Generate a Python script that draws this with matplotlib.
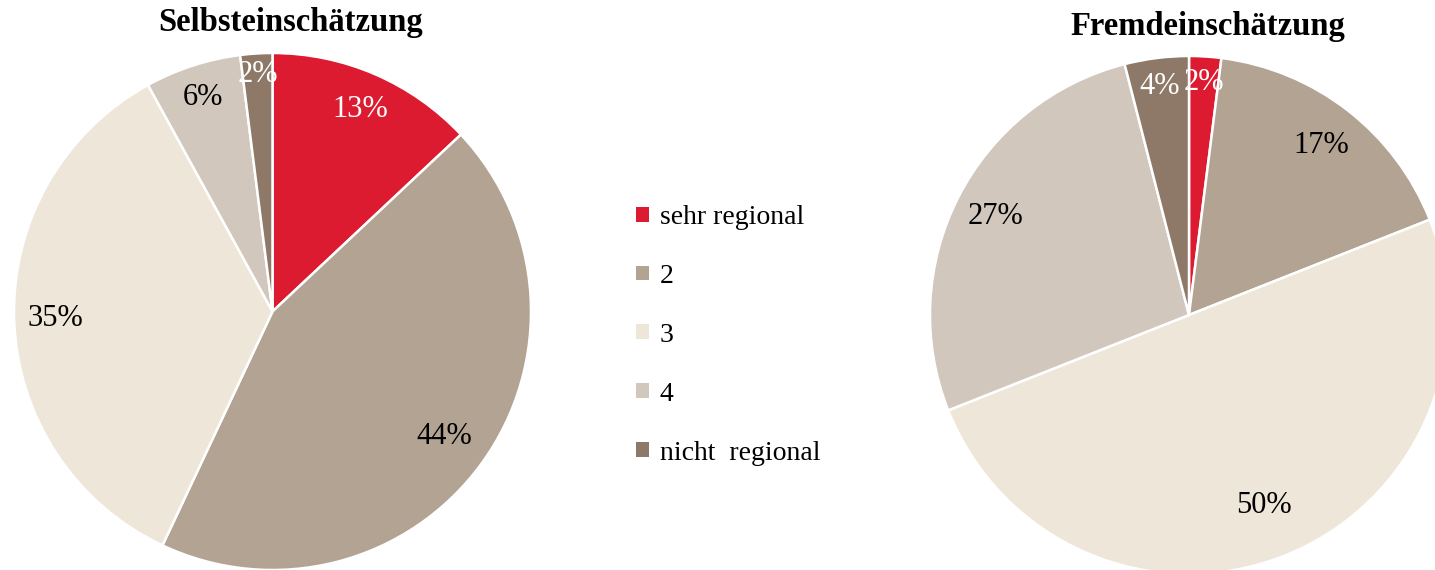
import matplotlib
matplotlib.use("Agg")
import matplotlib.pyplot as plt

categories = ["sehr regional", "2", "3", "4", "nicht  regional"]
selbst = [13, 44, 35, 6, 2]
fremd = [2, 17, 50, 27, 4]
colors = ["#DC1A30", "#B3A393", "#EFE6DA", "#D1C7BD", "#8E7968"]
label_colors = ["white", "black", "black", "black", "white"]

plt.rcParams['font.family'] = ['Liberation Serif', 'DejaVu Serif']

W, H = 1435, 570
fig = plt.figure(figsize=(W / 100, H / 100), dpi=100)


def draw(ax, values, radii, title, tx, ty):
    wedges, texts, autos = ax.pie(
        values, colors=colors, startangle=90, counterclock=False,
        autopct=lambda p: f"{p:.0f}%", pctdistance=0.85,
        wedgeprops=dict(edgecolor="white", linewidth=1.8),
        textprops=dict(fontsize=22), radius=1)
    for a, c, r in zip(autos, label_colors, radii):
        x, y = a.get_position()
        d = (x * x + y * y) ** 0.5
        a.set_position((x / d * r, y / d * r))
        a.set_color(c)
    ax.set_xlim(-1, 1)
    ax.set_ylim(-1, 1)
    ax.set_aspect("equal")
    ax.axis("off")
    fig.text(tx / W, 1 - ty / H, title, ha="center", va="center",
             fontsize=23.5, fontweight="bold")
    return wedges


ax1 = fig.add_axes([14 / W, 0 / H, 517 / W, 517 / H])
wedges = draw(ax1, selbst, [0.85, 0.82, 0.84, 0.87, 0.92], "Selbsteinschätzung", 291, 22)

ax2 = fig.add_axes([930 / W, -4 / H, 518 / W, 518 / H])
draw(ax2, fremd, [0.9, 0.83, 0.79, 0.84, 0.89], "Fremdeinschätzung", 1208, 27)

leg = fig.legend(wedges, categories, loc="upper left",
                 bbox_to_anchor=(611 / W, 1 - 180 / H), frameon=False,
                 fontsize=20, handlelength=0.45, handleheight=0.45,
                 handletextpad=0.4, labelspacing=1.22)
for h in leg.legend_handles:
    h.set_edgecolor("none")

fig.savefig("out.png", dpi=100)
